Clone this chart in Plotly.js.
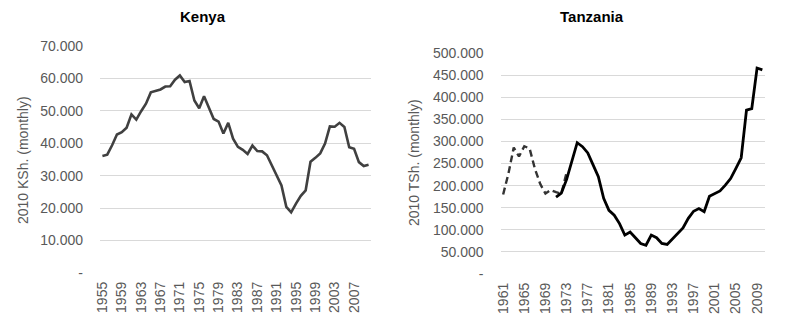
<!DOCTYPE html>
<html>
<head>
<meta charset="utf-8">
<script src="https://cdn.plot.ly/plotly-3.0.1.min.js"></script>
<style>html,body{margin:0;padding:0;background:#fff;}#chart{width:791px;height:323px;}</style>
</head>
<body>
<div id="chart"></div>
<script>
// ---- Data ----
const kenyaYears = [1955,1956,1957,1958,1959,1960,1961,1962,1963,1964,1965,1966,1967,1968,1969,1970,1971,1972,1973,1974,1975,1976,1977,1978,1979,1980,1981,1982,1983,1984,1985,1986,1987,1988,1989,1990,1991,1992,1993,1994,1995,1996,1997,1998,1999,2000,2001,2002,2003,2004,2005,2006,2007,2008,2009,2010];
const kenyaValues = [36100,36500,39400,42700,43400,44800,48900,47300,49900,52200,55700,56200,56600,57500,57600,59600,60900,58900,59200,53200,50800,54500,50900,47500,46700,43000,46300,41400,38900,38000,36700,39300,37600,37500,36300,33200,30300,27000,20400,18700,21400,23800,25500,34300,35500,36900,39900,45200,45100,46300,45000,38800,38300,34200,33000,33400];

const tzDashYears = [1961,1962,1963,1964,1965,1966,1967,1968,1969,1970,1971,1972,1973];
const tzDashValues = [180000,227000,286000,266000,289000,284000,238000,204000,182000,190000,185000,182000,230000];

const tzSolidYears = [1971,1972,1973,1974,1975,1976,1977,1978,1979,1980,1981,1982,1983,1984,1985,1986,1987,1988,1989,1990,1991,1992,1993,1994,1995,1996,1997,1998,1999,2000,2001,2002,2003,2004,2005,2006,2007,2008,2009,2010];
const tzSolidValues = [174000,183000,214000,255000,297000,288000,274000,247000,220000,171000,144000,133000,114000,88000,95000,82000,69000,65000,88000,82000,69000,67000,80000,93000,104000,126000,142000,148000,141000,176000,182000,188000,201000,216000,239000,263000,371000,374000,466000,462000];

const kenyaXTicks = [1955,1959,1963,1967,1971,1975,1979,1983,1987,1991,1995,1999,2003,2007];
const tzXTicks = [1961,1965,1969,1973,1977,1981,1985,1989,1993,1997,2001,2005,2009];
const kenyaYTickVals = [0,10000,20000,30000,40000,50000,60000,70000];
const kenyaYTickText = ['-','10.000','20.000','30.000','40.000','50.000','60.000','70.000'];
const tzYTickVals = [0,50000,100000,150000,200000,250000,300000,350000,400000,450000,500000];
const tzYTickText = ['-','50.000','100.000','150.000','200.000','250.000','300.000','350.000','400.000','450.000','500.000'];

const W = 791, H = 323;
const FONT = 'Liberation Sans, Arial, sans-serif';
const GREY = '#595959';

const traces = [
  {x: kenyaYears, y: kenyaValues, type: 'scatter', mode: 'lines', xaxis: 'x', yaxis: 'y',
   line: {color: '#404040', width: 2.6}},
  {x: tzDashYears, y: tzDashValues, type: 'scatter', mode: 'lines', xaxis: 'x2', yaxis: 'y2',
   line: {color: '#333333', width: 2.4, dash: '7px,4px'}},
  {x: tzSolidYears, y: tzSolidValues, type: 'scatter', mode: 'lines', xaxis: 'x2', yaxis: 'y2',
   line: {color: '#000000', width: 2.8}}
];

const xCommon = {
  tickangle: -90, ticks: '', showgrid: false, zeroline: false,
  showline: false, tickfont: {family: FONT, size: 14, color: GREY},
  ticklabelstandoff: 5, fixedrange: true
};
const yCommon = {
  ticks: '', showgrid: true, gridcolor: '#d9d9d9', gridwidth: 1,
  zeroline: false, showline: false, tickfont: {family: FONT, size: 14, color: GREY},
  fixedrange: true
};

const layout = {
  width: W, height: H,
  margin: {l: 0, r: 0, t: 0, b: 0},
  paper_bgcolor: '#ffffff', plot_bgcolor: '#ffffff',
  showlegend: false,
  xaxis: Object.assign({}, xCommon, {
    domain: [100/W, 371/W], range: [1954.5, 2010.5],
    tickmode: 'array', tickvals: kenyaXTicks, ticktext: kenyaXTicks.map(String), anchor: 'y'
  }),
  yaxis: Object.assign({}, yCommon, {
    domain: [1 - 273/H, 1 - 46/H], range: [0, 70000],
    tickmode: 'array', tickvals: kenyaYTickVals, ticktext: kenyaYTickText,
    ticklabelstandoff: 16, anchor: 'x'
  }),
  xaxis2: Object.assign({}, xCommon, {
    domain: [500.5/W, 765/W], range: [1960.5, 2010.5],
    tickmode: 'array', tickvals: tzXTicks, ticktext: tzXTicks.map(String), anchor: 'y2'
  }),
  yaxis2: Object.assign({}, yCommon, {
    domain: [1 - 274/H, 1 - 53/H], range: [0, 500000],
    tickmode: 'array', tickvals: tzYTickVals, ticktext: tzYTickText,
    ticklabelstandoff: 16, anchor: 'x2'
  }),
  annotations: [
    {text: '<b>Kenya</b>', xref: 'paper', yref: 'paper', x: 203/W, y: 1 - 17/H,
     xanchor: 'center', yanchor: 'middle', showarrow: false,
     font: {family: FONT, size: 15, color: '#000000'}},
    {text: '<b>Tanzania</b>', xref: 'paper', yref: 'paper', x: 592/W, y: 1 - 17/H,
     xanchor: 'center', yanchor: 'middle', showarrow: false,
     font: {family: FONT, size: 15, color: '#000000'}},
    {text: '2010 KSh. (monthly)', xref: 'paper', yref: 'paper', x: 23/W, y: 1 - 160/H,
     xanchor: 'center', yanchor: 'middle', textangle: -90, showarrow: false,
     font: {family: FONT, size: 14, color: GREY}},
    {text: '2010 TSh. (monthly)', xref: 'paper', yref: 'paper', x: 414/W, y: 1 - 163/H,
     xanchor: 'center', yanchor: 'middle', textangle: -90, showarrow: false,
     font: {family: FONT, size: 14, color: GREY}}
  ]
};

Plotly.newPlot('chart', traces, layout, {displayModeBar: false, staticPlot: true});
</script>
</body>
</html>
